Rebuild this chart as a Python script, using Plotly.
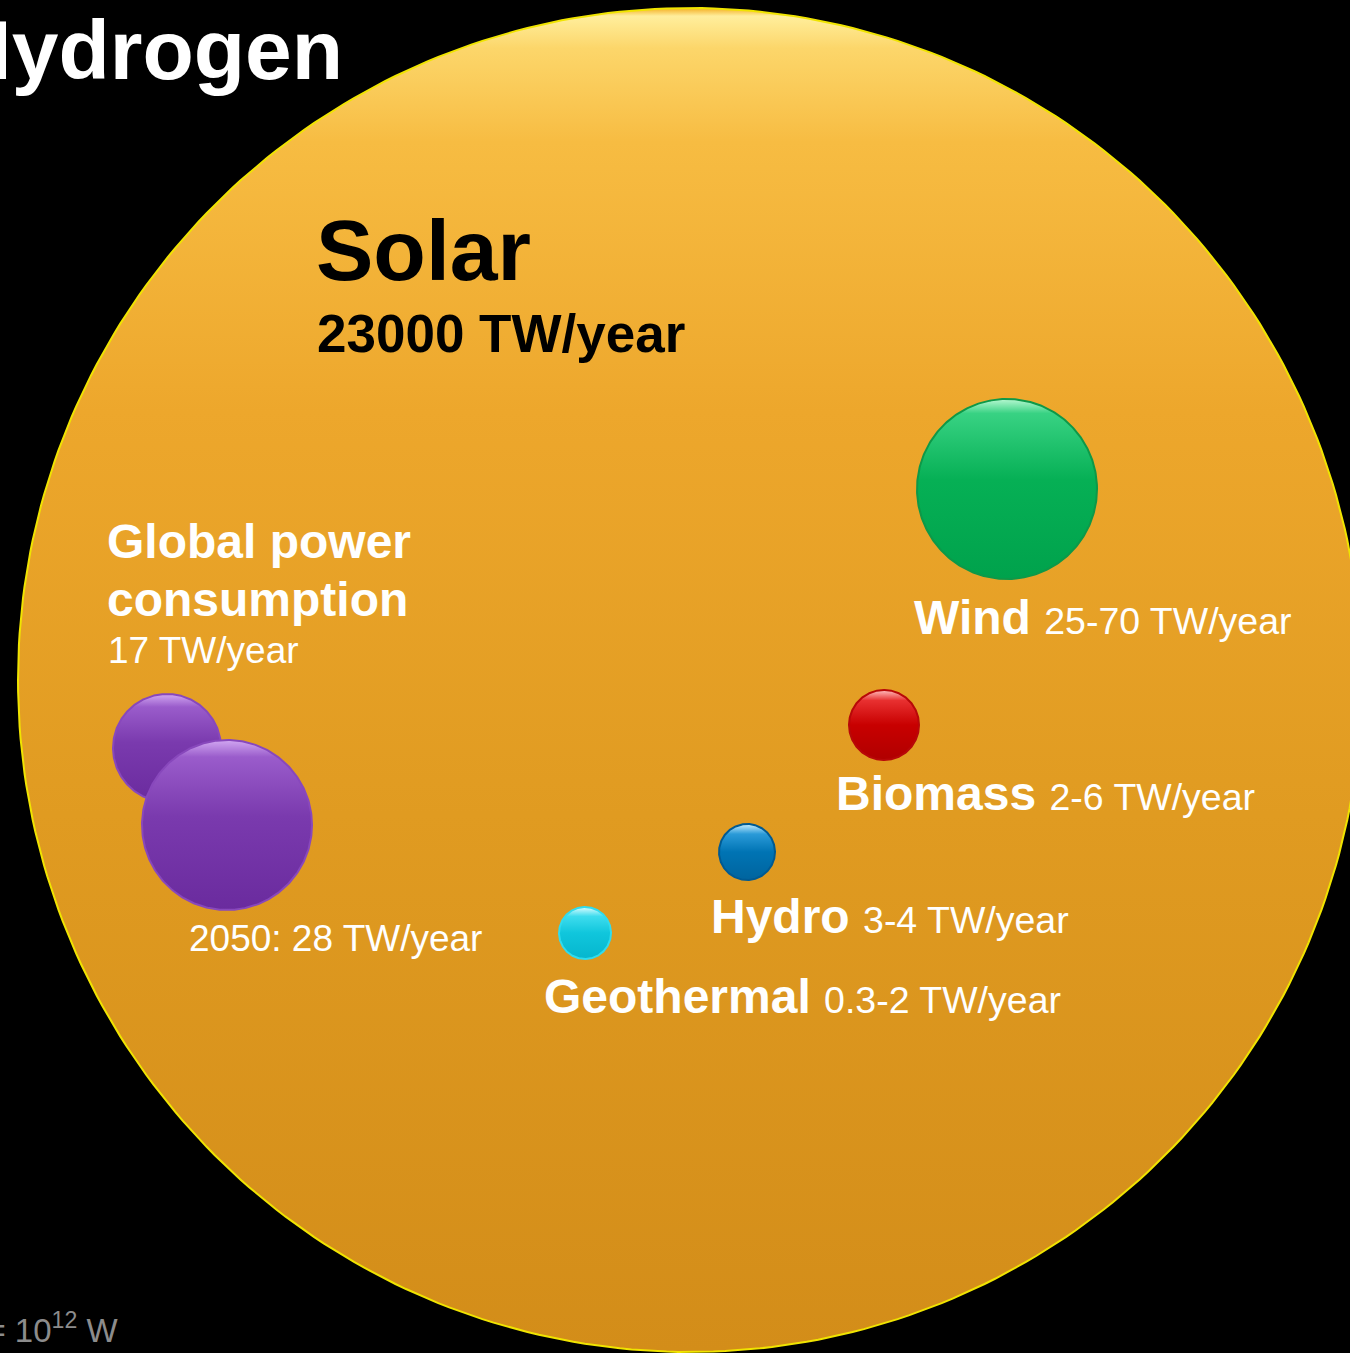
import numpy as np
import plotly.graph_objects as go

# ---------------- data ----------------
title_text = "Hydrogen"
unit_note = "1 TW = 10<sup>12</sup> W"

solar_label = "Solar"
solar_value = "23000 TW/year"

consumption_label = ["Global power", "consumption"]
consumption_now = "17 TW/year"
consumption_2050 = "2050: 28 TW/year"

sources = ["Wind", "Biomass", "Hydro", "Geothermal"]
source_ranges = ["25-70", "2-6", "3-4", "0.3-2"]
unit = "TW/year"

# ---------------- layout / style (pixel coordinates, y down) ----------------
W, H = 1350, 1353
FONT = "Liberation Sans"

spheres = [
    # name, cx, cy, r, colorscale (top->bottom), edge colour, edge width
    ("Solar", 690, 680, 672,
     [[0.0, "#F4AE22"], [0.006, "#FFEE9C"], [0.03, "#FCD66A"], [0.1, "#F7BC42"],
      [0.3, "#EDA72C"], [0.6, "#E09B21"], [1.0, "#D38D19"]], "#F0E400", 2),
    ("Global now", 167, 748, 54,
     [[0.0, "#D2A8F2"], [0.12, "#9A5CCB"], [0.45, "#7A3AAE"], [1.0, "#6A2B9E"]], "#8848BC", 2),
    ("Global 2050", 227, 825, 85,
     [[0.0, "#D2A8F2"], [0.1, "#9A5CCB"], [0.45, "#7A3AAE"], [1.0, "#6A2B9E"]], "#8848BC", 2),
    ("Wind", 1007, 489, 90,
     [[0.0, "#B8F8D2"], [0.08, "#38D283"], [0.45, "#06B055"], [1.0, "#00A24C"]], "#0E9848", 2),
    ("Biomass", 884, 725, 35,
     [[0.0, "#FFC0C0"], [0.15, "#E83030"], [0.5, "#C80000"], [1.0, "#B00000"]], "#B80808", 2),
    ("Hydro", 747, 852, 28,
     [[0.0, "#C8EEFF"], [0.18, "#2A9AD8"], [0.5, "#0074B4"], [1.0, "#00649E"]], "#005A92", 2),
    ("Geothermal", 585, 933, 26,
     [[0.0, "#E0FCFF"], [0.18, "#3EDCEE"], [0.5, "#10C6DC"], [1.0, "#06B6CE"]], "#30DCEE", 2),
]

fig = go.Figure()

theta = np.linspace(0, 2 * np.pi, 361)
for name, cx, cy, r, cs, edge, lw in spheres:
    xs = cx + r * np.cos(theta)
    ys = cy + r * np.sin(theta)
    fig.add_trace(go.Scatter(
        x=xs, y=ys, mode="lines", fill="toself",
        line=dict(color=edge, width=lw),
        fillgradient=dict(type="vertical", colorscale=cs, start=cy - r, stop=cy + r),
        hoverinfo="skip", name=name, showlegend=False,
    ))

ann = []

def add_text(x, y, text, size, color="white", bold=False, xanchor="left"):
    t = f"<b>{text}</b>" if bold else text
    ann.append(dict(x=x, y=y, xref="x", yref="y", text=t, showarrow=False,
                    xanchor=xanchor, yanchor="middle",
                    font=dict(family=FONT, size=size, color=color)))

# title (cut at the left edge) and unit note
add_text(345, 50, title_text, 84, bold=True, xanchor="right")
add_text(120, 1328, unit_note, 33, color="#8C8C8C", xanchor="right")

# solar
add_text(314, 250, solar_label, 86, color="black", bold=True)
add_text(315, 333, solar_value, 53, color="black", bold=True)

# global consumption
add_text(105, 541, consumption_label[0], 48, bold=True)
add_text(105, 599, consumption_label[1], 48, bold=True)
add_text(106, 650, consumption_now, 37)
add_text(187, 938, consumption_2050, 37)

# sources
label_pos = [(912, 617), (834, 793), (709, 916), (542, 996)]
for name, rng, (lx, ly) in zip(sources, source_ranges, label_pos):
    add_text(lx, ly,
             f"<b>{name}</b> <span style='font-size:37.5px'>{rng} {unit}</span>",
             48)

fig.update_layout(
    width=W, height=H, autosize=False,
    margin=dict(l=0, r=0, t=0, b=0),
    paper_bgcolor="black", plot_bgcolor="black",
    xaxis=dict(range=[0, W], visible=False, fixedrange=True),
    yaxis=dict(range=[H, 0], visible=False, fixedrange=True),
    annotations=ann,
    showlegend=False,
)

fig.write_html(
    "out.html",
    config={"displayModeBar": False},
    post_script="document.body.style.margin='0';document.body.style.background='black';",
)
